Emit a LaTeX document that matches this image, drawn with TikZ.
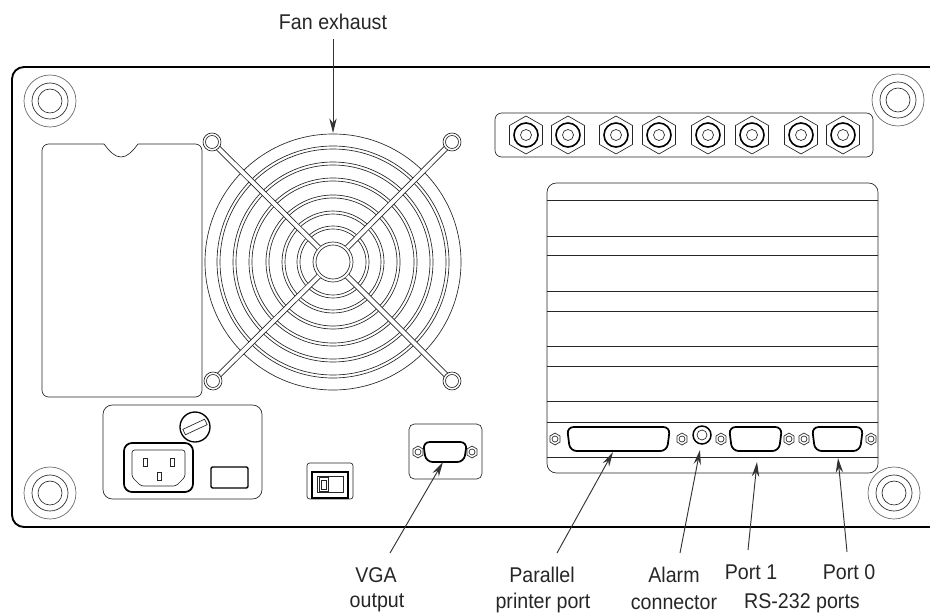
\documentclass[tikz,border=0pt]{standalone}
\usepackage{fontspec}
\setmainfont[FakeStretch=0.92]{Liberation Sans}
\usetikzlibrary{arrows.meta}
\tikzset{
  ln/.style={line width=0.5pt,draw=black!85},
  thk/.style={line width=1.3pt,draw=black},
  lbl/.style={inner sep=0pt,font=\fontsize{16}{18}\selectfont,text=black!85},
  leader/.style={line width=0.7pt,draw=black!80,-{Stealth[length=11pt,width=5.5pt]}},
}
\newcommand{\mount}[2]{%
  \draw[ln,black!60] (#1,#2) circle (26) ;
  \draw[ln] (#1,#2) circle (18) circle (12);}
\newcommand{\hexnut}[2]{%
  \begin{scope}[shift={(#1,#2)}]
  \draw[ln] (0,-19)--(16.5,-9.5)--(16.5,9.5)--(0,19)--(-16.5,9.5)--(-16.5,-9.5)--cycle;
  \draw[line width=1.2pt] (0,0) circle (12);
  \draw[ln] (0,0) circle (5.5);
  \end{scope}}
\newcommand{\nut}[2]{%
  \begin{scope}[shift={(#1,#2)}]
  \draw[ln,fill=white] (0,-6)--(5,-3)--(5,3)--(0,6)--(-5,3)--(-5,-3)--cycle;
  \draw[ln] (0,0) circle (3);
  \end{scope}}
\newcommand{\fanscrew}[2]{%
  \draw[ln,fill=white] (#1,#2) circle (9) circle (6.5);}
\newcommand{\dsub}[4]{% left, right, top, bottom
  \draw[thk,rounded corners=5,fill=white] (#1,#3) -- (#2,#3) -- ({#2-3},#4) -- ({#1+3},#4) -- cycle;}
\begin{document}
\begin{tikzpicture}[x=0.75pt,y=-0.75pt]
\useasboundingbox (0,0) rectangle (930,613);
% chassis
\draw[line width=1.4pt,rounded corners=9] (930,67) -- (12,67) -- (12,527) -- (930,527);
\mount{50}{101}\mount{898}{100}\mount{50}{493}\mount{894}{493}
% left plate
\draw[ln,rounded corners=5] (104,144) -- (42,144) -- (42,397) -- (202,397) -- (202,144) -- (138,144);
\draw[ln] (104,144) .. controls (110,152) and (115,157) .. (121,157) .. controls (127,157) and (132,152) .. (138,144);
% fan
\foreach \r in {128,116,113,100,97,84,81,67,64,51,48,36,33,20,17}{\draw[ln] (333,262) circle (\r);}
\foreach \sx/\sy in {212/142,452/142,213/381,452/381}{
  \pgfmathsetmacro{\dx}{\sx-333}\pgfmathsetmacro{\dy}{\sy-262}
  \pgfmathsetmacro{\vl}{veclen(\dx,\dy)}
  \pgfmathsetmacro{\ux}{\dx/\vl}\pgfmathsetmacro{\uy}{\dy/\vl}
  \fill[white] ({333+20*\ux-2.5*\uy},{262+20*\uy+2.5*\ux}) -- ({\sx-2.5*\uy},{\sy+2.5*\ux}) -- ({\sx+2.5*\uy},{\sy-2.5*\ux}) -- ({333+20*\ux+2.5*\uy},{262+20*\uy-2.5*\ux}) -- cycle;
  \draw[ln] ({333+20*\ux-2.5*\uy},{262+20*\uy+2.5*\ux}) -- ({\sx-2.5*\uy},{\sy+2.5*\ux});
  \draw[ln] ({333+20*\ux+2.5*\uy},{262+20*\uy-2.5*\ux}) -- ({\sx+2.5*\uy},{\sy-2.5*\ux});
  \fanscrew{\sx}{\sy}
}
% BNC panel
\draw[ln,rounded corners=5] (495,113) rectangle (873,157);
\foreach \x in {526,568,616,659,708,752,801,843}{\hexnut{\x}{135}}
% card cage
\draw[ln,rounded corners=7] (547,183) rectangle (878,473);
\foreach \y in {200,236,255,291,311,346,366,401,422,457}{\draw[ln] (547,\y) -- (878,\y);}
\dsub{567}{670}{427}{451}
\dsub{729}{782}{427}{451}
\dsub{812}{863}{427}{451}
\draw[line width=1.1pt,fill=white] (702,435) circle (9);
\draw[ln] (702,435) circle (5);
\foreach \x in {555,682,721,789,804,871}{\nut{\x}{439}}
% power panel
\draw[ln,rounded corners=7] (103,405) rectangle (262,499);
\draw[line width=1pt] (195,427) circle (15);
\draw[ln,rotate around={25:(195,427)}] (183,424) rectangle (207,430);
\draw[thk,rounded corners=6] (124,443) rectangle (193,492);
\draw[ln,rounded corners=2] (132,450) -- (185,450) -- (185,477) -- (176,486) -- (141,486) -- (132,477) -- cycle;
\draw[ln] (143,458) rectangle (147,466) (170,458) rectangle (174,466) (157,472) rectangle (161,480);
\draw[line width=1pt,rounded corners=1] (211,467) rectangle (248,488);
% switch
\draw[ln,rounded corners=2] (307,463) rectangle (353,499);
\draw[line width=1.4pt] (312,472) rectangle (348,498);
\draw[ln] (317,476) rectangle (343,492);
\draw[ln] (319,477) rectangle (328,491) (321,480) rectangle (326,489);
% VGA panel
\draw[ln,rounded corners=4] (409,424) rectangle (482,479);
\dsub{423}{467}{442}{462}
\nut{418}{452}\nut{472}{452}
% labels
\node[lbl] (fan) at (333,22) {Fan exhaust};
\node[lbl] (vga) at (376,575) {VGA};
\node[lbl] (vgab) at (377,603) {output};
\node[lbl] (par) at (542,575) {Parallel};
\node[lbl] (parb) at (543,603) {printer port};
\node[lbl] (ala) at (674,575) {Alarm};
\node[lbl] (alab) at (674,603) {connector};
\node[lbl] (p1) at (751,572) {Port 1};
\node[lbl] (p0) at (849,572) {Port 0};
\node[lbl] (rs) at (802,603) {RS-232 ports};
\coordinate (sfan) at (333,39);
\coordinate (tfan) at (333,133);
\coordinate (svga) at (390,553);
\coordinate (tvga) at (443,462);
\coordinate (spar) at (557,553);
\coordinate (tpar) at (613,452);
\coordinate (sala) at (680,553);
\coordinate (tala) at (700,450);
\coordinate (sp1) at (748,550);
\coordinate (tp1) at (757,462);
\coordinate (sp0) at (847,552);
\coordinate (tp0) at (838,458);
\draw[leader] (sfan) -- (tfan);
\draw[leader] (svga) -- (tvga);
\draw[leader] (spar) -- (tpar);
\draw[leader] (sala) -- (tala);
\draw[leader] (sp1) -- (tp1);
\draw[leader] (sp0) -- (tp0);
\end{tikzpicture}
\end{document}
